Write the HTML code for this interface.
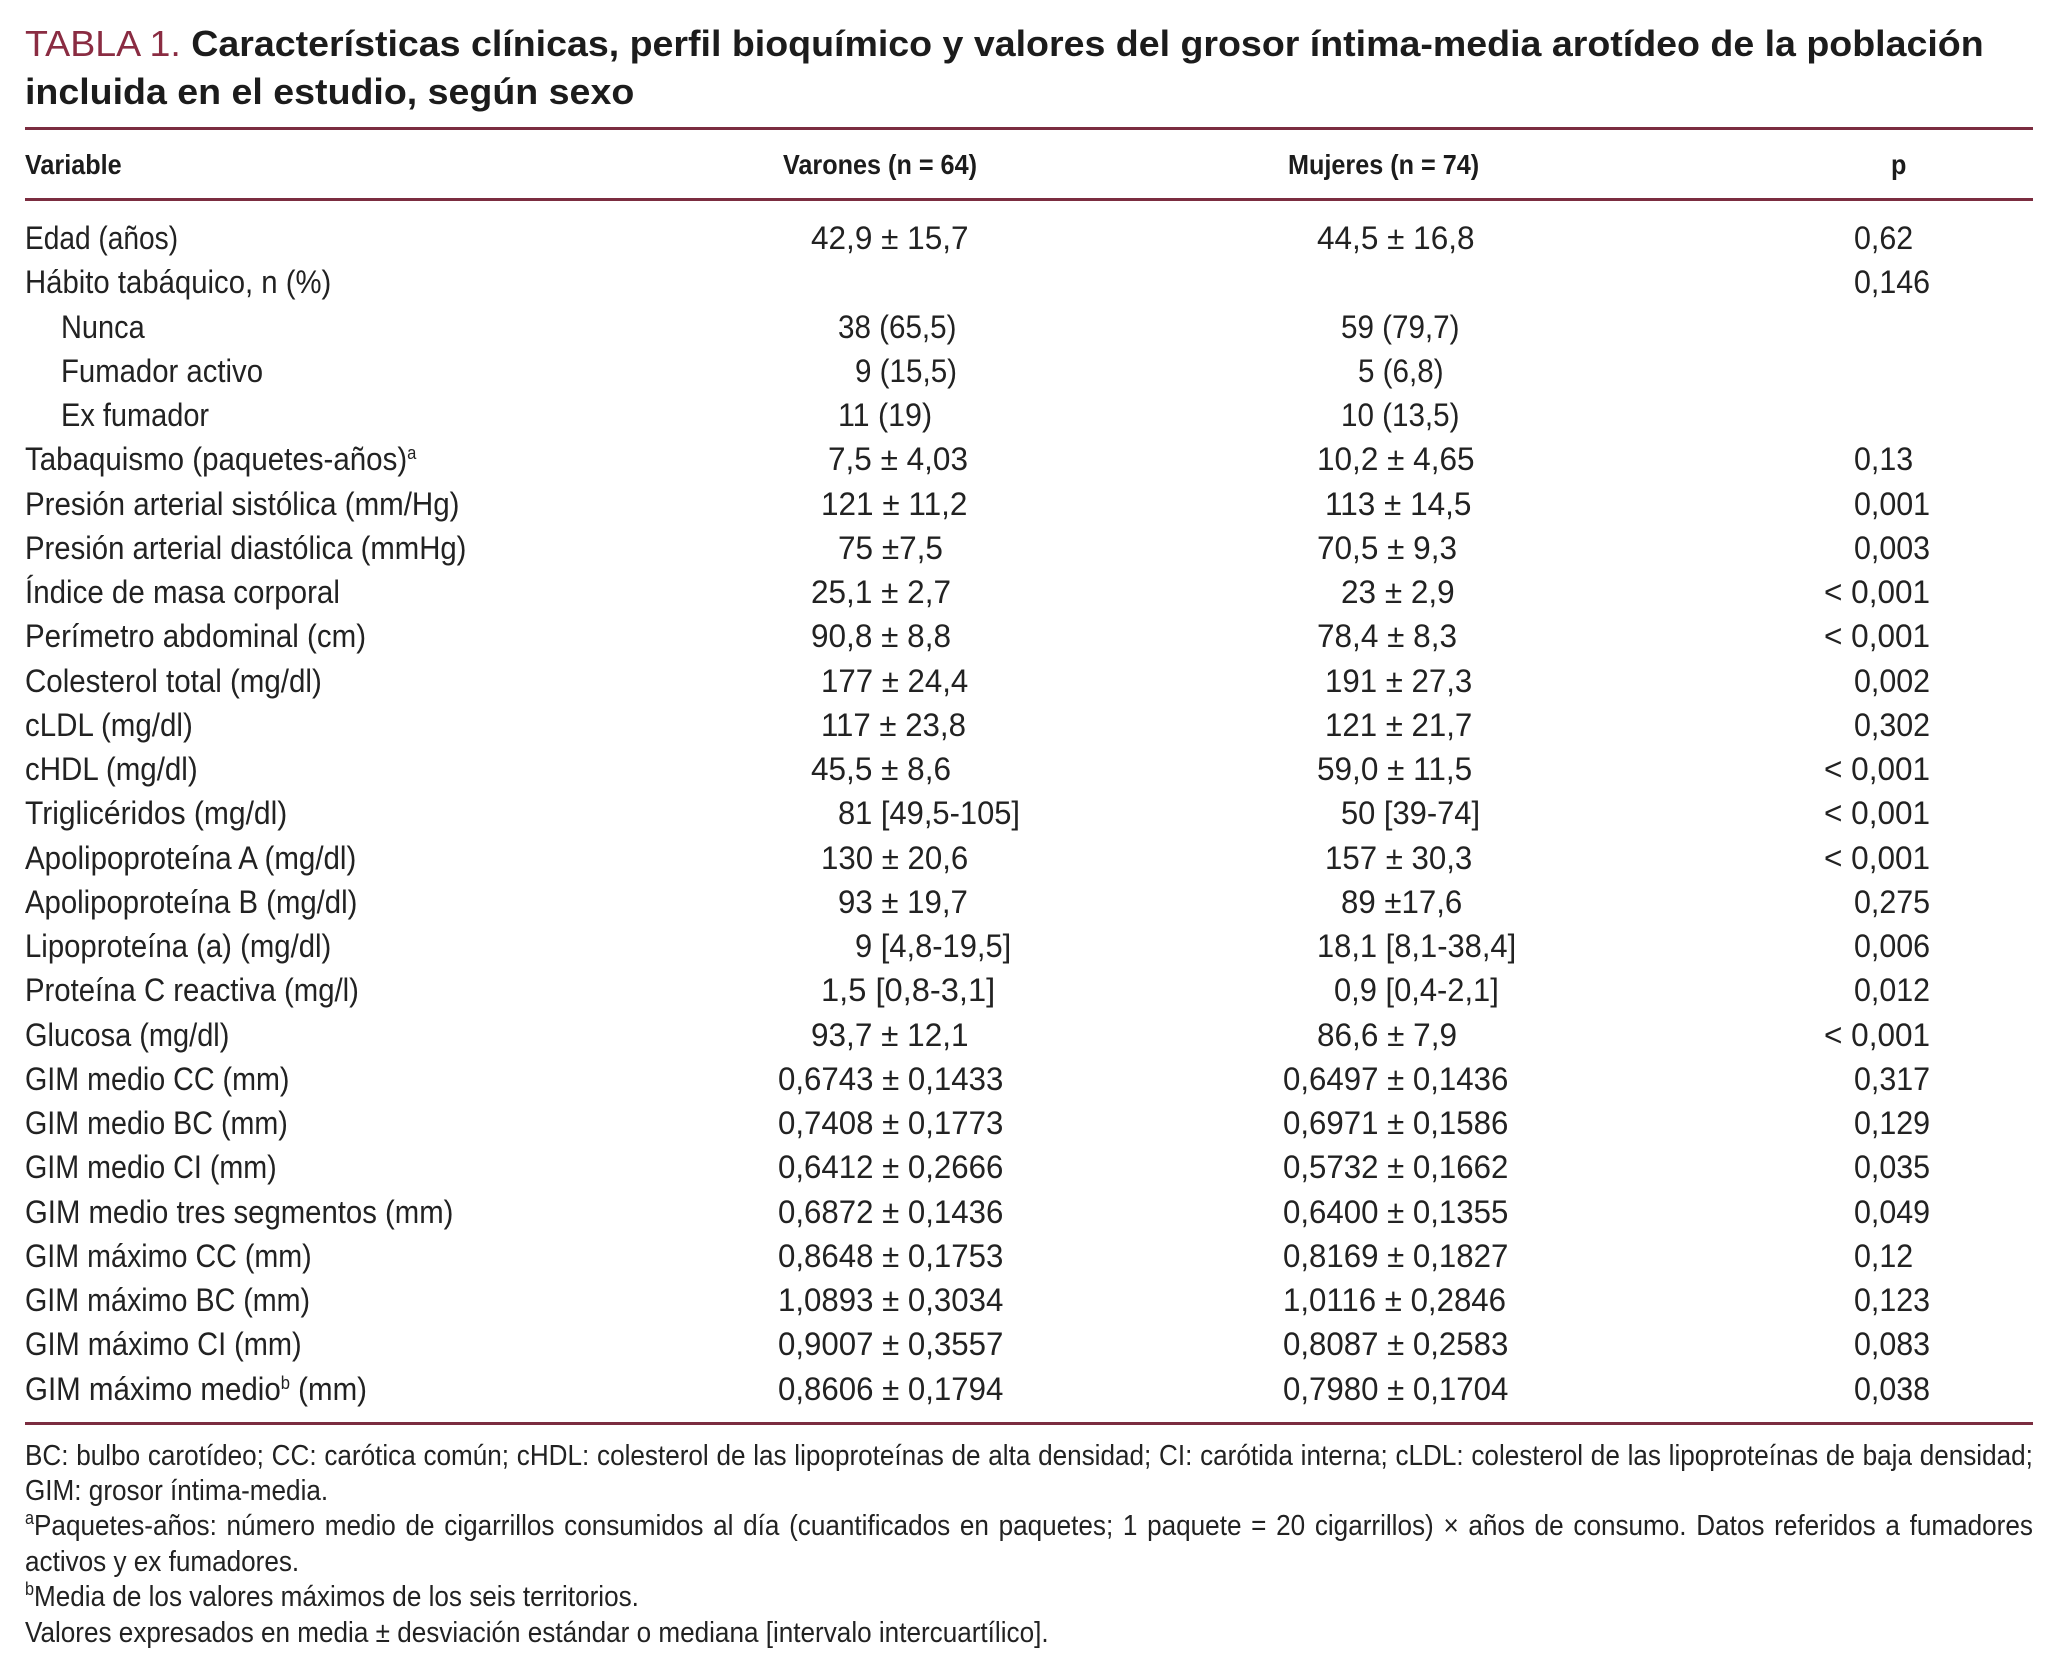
<!DOCTYPE html>
<html lang="es">
<head>
<meta charset="utf-8">
<title>Tabla 1</title>
<style>
html,body{margin:0;padding:0;background:#fff}
#page{position:relative;width:2050px;height:1679px;overflow:hidden;background:#fff;color:#222;font-family:"Liberation Sans",sans-serif}
.t{position:absolute;white-space:pre;transform-origin:0 0}
.title{font-size:36px;line-height:48px;font-weight:bold;transform:scaleX(1.043);color:#1c1c1c}
.title .lab{font-weight:normal;color:#8a2c42}
.rule{position:absolute;left:25px;width:2008px;height:3px;background:#7b2d40}
.h{font-size:28px;line-height:36px;top:147px;font-weight:bold;transform:scaleX(.9);color:#1c1c1c}
.c{font-size:32px;line-height:44px;margin-top:-1px;transform:scaleX(.916)}
.c sup{font-size:18px;line-height:0;vertical-align:11px}
.l88{transform:scaleX(.878)}
.l89{transform:scaleX(.896)}
.l90{transform:scaleX(.905)}
.l92{transform:scaleX(.922)}
.l94{transform:scaleX(.9375)}
.pm{transform:scaleX(.985)}
.d4{transform:scaleX(.975)}
.br{transform:scaleX(.965)}
.pa{transform:scaleX(.925)}
.p3{transform:scaleX(.95)}
.f{font-size:29px;line-height:36px;left:25px;transform:scaleX(.9);color:#222}
.f sup{font-size:18px;line-height:0;vertical-align:11px}
.j{width:2231px;white-space:normal;text-align:justify;text-align-last:justify}
</style>
</head>
<body>
<div id="page">
<div class="t title" style="left:25px;top:20px"><span class="lab">TABLA 1.</span> Características clínicas, perfil bioquímico y valores del grosor íntima-media arotídeo de la población</div>
<div class="t title" style="left:25px;top:68px">incluida en el estudio, según sexo</div>
<div class="rule" style="top:127px"></div>
<div class="t h" style="left:25px">Variable</div>
<div class="t h" style="left:783px">Varones (n = 64)</div>
<div class="t h" style="left:1288px">Mujeres (n = 74)</div>
<div class="t h" style="left:1891px">p</div>
<div class="rule" style="top:198px"></div>

<div class="t c l88" style="left:25px;top:217px">Edad (años)</div>
<div class="t c pm" style="left:811px;top:217px">42,9 ± 15,7</div>
<div class="t c pm" style="left:1317px;top:217px">44,5 ± 16,8</div>
<div class="t c p3" style="left:1854px;top:217px">0,62</div>

<div class="t c" style="left:25px;top:261px">Hábito tabáquico, n (%)</div>
<div class="t c p3" style="left:1854px;top:261px">0,146</div>

<div class="t c l90" style="left:61px;top:305.5px">Nunca</div>
<div class="t c pa" style="left:838px;top:305.5px">38 (65,5)</div>
<div class="t c pa" style="left:1341px;top:305.5px">59 (79,7)</div>

<div class="t c" style="left:61px;top:350px">Fumador activo</div>
<div class="t c pa" style="left:855px;top:350px">9 (15,5)</div>
<div class="t c pa" style="left:1358px;top:350px">5 (6,8)</div>

<div class="t c l90" style="left:61px;top:394px">Ex fumador</div>
<div class="t c p3" style="left:838px;top:394px">11 (19)</div>
<div class="t c pa" style="left:1341px;top:394px">10 (13,5)</div>

<div class="t c l92" style="left:25px;top:438px">Tabaquismo (paquetes-años)<sup>a</sup></div>
<div class="t c pm" style="left:828px;top:438px">7,5 ± 4,03</div>
<div class="t c pm" style="left:1317px;top:438px">10,2 ± 4,65</div>
<div class="t c p3" style="left:1854px;top:438px">0,13</div>

<div class="t c l92" style="left:25px;top:482.5px">Presión arterial sistólica (mm/Hg)</div>
<div class="t c pm" style="left:821px;top:482.5px">121 ± 11,2</div>
<div class="t c pm" style="left:1325px;top:482.5px">113 ± 14,5</div>
<div class="t c p3" style="left:1854px;top:482.5px">0,001</div>

<div class="t c" style="left:25px;top:527px">Presión arterial diastólica (mmHg)</div>
<div class="t c pm" style="left:838px;top:527px">75 ±7,5</div>
<div class="t c pm" style="left:1317px;top:527px">70,5 ± 9,3</div>
<div class="t c p3" style="left:1854px;top:527px">0,003</div>

<div class="t c l92" style="left:25px;top:571px">Índice de masa corporal</div>
<div class="t c pm" style="left:811px;top:571px">25,1 ± 2,7</div>
<div class="t c pm" style="left:1341px;top:571px">23 ± 2,9</div>
<div class="t c pm" style="left:1824px;top:571px">&lt; 0,001</div>

<div class="t c l92" style="left:25px;top:615px">Perímetro abdominal (cm)</div>
<div class="t c pm" style="left:811px;top:615px">90,8 ± 8,8</div>
<div class="t c pm" style="left:1317px;top:615px">78,4 ± 8,3</div>
<div class="t c pm" style="left:1824px;top:615px">&lt; 0,001</div>

<div class="t c l92" style="left:25px;top:660px">Colesterol total (mg/dl)</div>
<div class="t c d4" style="left:821px;top:660px">177 ± 24,4</div>
<div class="t c d4" style="left:1325px;top:660px">191 ± 27,3</div>
<div class="t c p3" style="left:1854px;top:660px">0,002</div>

<div class="t c l92" style="left:25px;top:704px">cLDL (mg/dl)</div>
<div class="t c d4" style="left:821px;top:704px">117 ± 23,8</div>
<div class="t c d4" style="left:1325px;top:704px">121 ± 21,7</div>
<div class="t c p3" style="left:1854px;top:704px">0,302</div>

<div class="t c l92" style="left:25px;top:748px">cHDL (mg/dl)</div>
<div class="t c pm" style="left:811px;top:748px">45,5 ± 8,6</div>
<div class="t c pm" style="left:1317px;top:748px">59,0 ± 11,5</div>
<div class="t c pm" style="left:1824px;top:748px">&lt; 0,001</div>

<div class="t c l94" style="left:25px;top:792px">Triglicéridos (mg/dl)</div>
<div class="t c br" style="left:838px;top:792px">81 [49,5-105]</div>
<div class="t c br" style="left:1341px;top:792px">50 [39-74]</div>
<div class="t c pm" style="left:1824px;top:792px">&lt; 0,001</div>

<div class="t c l92" style="left:25px;top:836.5px">Apolipoproteína A (mg/dl)</div>
<div class="t c d4" style="left:821px;top:836.5px">130 ± 20,6</div>
<div class="t c d4" style="left:1325px;top:836.5px">157 ± 30,3</div>
<div class="t c pm" style="left:1824px;top:836.5px">&lt; 0,001</div>

<div class="t c" style="left:25px;top:881px">Apolipoproteína B (mg/dl)</div>
<div class="t c d4" style="left:838px;top:881px">93 ± 19,7</div>
<div class="t c d4" style="left:1341px;top:881px">89 ±17,6</div>
<div class="t c p3" style="left:1854px;top:881px">0,275</div>

<div class="t c" style="left:25px;top:925px">Lipoproteína (a) (mg/dl)</div>
<div class="t c br" style="left:855px;top:925px">9 [4,8-19,5]</div>
<div class="t c br" style="left:1317px;top:925px">18,1 [8,1-38,4]</div>
<div class="t c p3" style="left:1854px;top:925px">0,006</div>

<div class="t c" style="left:25px;top:969px">Proteína C reactiva (mg/l)</div>
<div class="t c pm" style="left:821px;top:969px;transform:scaleX(1.02)">1,5 [0,8-3,1]</div>
<div class="t c br" style="left:1334px;top:969px">0,9 [0,4-2,1]</div>
<div class="t c p3" style="left:1854px;top:969px">0,012</div>

<div class="t c l90" style="left:25px;top:1013.5px">Glucosa (mg/dl)</div>
<div class="t c pm" style="left:811px;top:1013.5px">93,7 ± 12,1</div>
<div class="t c pm" style="left:1317px;top:1013.5px">86,6 ± 7,9</div>
<div class="t c pm" style="left:1824px;top:1013.5px">&lt; 0,001</div>

<div class="t c l89" style="left:25px;top:1058px">GIM medio CC (mm)</div>
<div class="t c d4" style="left:778px;top:1058px">0,6743 ± 0,1433</div>
<div class="t c d4" style="left:1283px;top:1058px">0,6497 ± 0,1436</div>
<div class="t c p3" style="left:1854px;top:1058px">0,317</div>

<div class="t c l89" style="left:25px;top:1102px">GIM medio BC (mm)</div>
<div class="t c d4" style="left:778px;top:1102px">0,7408 ± 0,1773</div>
<div class="t c d4" style="left:1283px;top:1102px">0,6971 ± 0,1586</div>
<div class="t c p3" style="left:1854px;top:1102px">0,129</div>

<div class="t c l89" style="left:25px;top:1146px">GIM medio CI (mm)</div>
<div class="t c d4" style="left:778px;top:1146px">0,6412 ± 0,2666</div>
<div class="t c d4" style="left:1283px;top:1146px">0,5732 ± 0,1662</div>
<div class="t c p3" style="left:1854px;top:1146px">0,035</div>

<div class="t c" style="left:25px;top:1190.5px">GIM medio tres segmentos (mm)</div>
<div class="t c d4" style="left:778px;top:1190.5px">0,6872 ± 0,1436</div>
<div class="t c d4" style="left:1283px;top:1190.5px">0,6400 ± 0,1355</div>
<div class="t c p3" style="left:1854px;top:1190.5px">0,049</div>

<div class="t c l89" style="left:25px;top:1235px">GIM máximo CC (mm)</div>
<div class="t c d4" style="left:778px;top:1235px">0,8648 ± 0,1753</div>
<div class="t c d4" style="left:1283px;top:1235px">0,8169 ± 0,1827</div>
<div class="t c p3" style="left:1854px;top:1235px">0,12</div>

<div class="t c l89" style="left:25px;top:1279px">GIM máximo BC (mm)</div>
<div class="t c d4" style="left:778px;top:1279px">1,0893 ± 0,3034</div>
<div class="t c d4" style="left:1283px;top:1279px">1,0116 ± 0,2846</div>
<div class="t c p3" style="left:1854px;top:1279px">0,123</div>

<div class="t c l90" style="left:25px;top:1323px">GIM máximo CI (mm)</div>
<div class="t c d4" style="left:778px;top:1323px">0,9007 ± 0,3557</div>
<div class="t c d4" style="left:1283px;top:1323px">0,8087 ± 0,2583</div>
<div class="t c p3" style="left:1854px;top:1323px">0,083</div>

<div class="t c l92" style="left:25px;top:1367.5px">GIM máximo medio<sup>b</sup> (mm)</div>
<div class="t c d4" style="left:778px;top:1367.5px">0,8606 ± 0,1794</div>
<div class="t c d4" style="left:1283px;top:1367.5px">0,7980 ± 0,1704</div>
<div class="t c p3" style="left:1854px;top:1367.5px">0,038</div>

<div class="rule" style="top:1422px"></div>

<div class="t f j" style="top:1438px">BC: bulbo carotídeo; CC: carótica común; cHDL: colesterol de las lipoproteínas de alta densidad; CI: carótida interna; cLDL: colesterol de las lipoproteínas de baja densidad;</div>
<div class="t f" style="top:1473px">GIM: grosor íntima-media.</div>
<div class="t f j" style="top:1508px"><sup>a</sup>Paquetes-años: número medio de cigarrillos consumidos al día (cuantificados en paquetes; 1 paquete = 20 cigarrillos) × años de consumo. Datos referidos a fumadores</div>
<div class="t f" style="top:1544px">activos y ex fumadores.</div>
<div class="t f" style="top:1579px"><sup>b</sup>Media de los valores máximos de los seis territorios.</div>
<div class="t f" style="top:1615px">Valores expresados en media ± desviación estándar o mediana [intervalo intercuartílico].</div>
</div>
</body>
</html>
